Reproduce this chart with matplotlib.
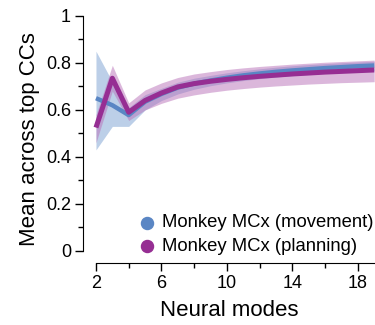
import numpy as np
import matplotlib.pyplot as plt

plt.rcParams['font.family'] = ['Liberation Sans', 'DejaVu Sans']

# number of neural modes
modes = np.arange(2, 20)

# mean CC across top CCs, with band limits
movement_mean = [0.65, 0.62, 0.578, 0.635, 0.668, 0.695, 0.712, 0.725, 0.737, 0.747,
                 0.755, 0.762, 0.768, 0.773, 0.778, 0.782, 0.786, 0.789]
movement_lo = [0.43, 0.53, 0.53, 0.60, 0.64, 0.668, 0.688, 0.703, 0.715, 0.725,
               0.733, 0.74, 0.746, 0.751, 0.756, 0.76, 0.764, 0.767]
movement_hi = [0.85, 0.72, 0.61, 0.665, 0.692, 0.718, 0.735, 0.747, 0.758, 0.767,
               0.775, 0.782, 0.788, 0.793, 0.797, 0.801, 0.804, 0.807]

planning_mean = [0.525, 0.735, 0.59, 0.64, 0.672, 0.698, 0.712, 0.722, 0.73, 0.737,
                 0.743, 0.748, 0.753, 0.757, 0.761, 0.764, 0.767, 0.77]
planning_lo = [0.46, 0.68, 0.555, 0.60, 0.628, 0.65, 0.664, 0.675, 0.684, 0.691,
               0.697, 0.702, 0.706, 0.71, 0.713, 0.716, 0.718, 0.72]
planning_hi = [0.58, 0.79, 0.63, 0.685, 0.715, 0.738, 0.753, 0.763, 0.772, 0.779,
               0.785, 0.79, 0.795, 0.799, 0.803, 0.806, 0.809, 0.812]

blue = '#5a86c4'
purple = '#962e93'

fig = plt.figure(figsize=(3.75, 3.25), dpi=100)
ax = fig.add_axes([0.221, 0.191, 0.779, 0.76])

ax.fill_between(modes, movement_lo, movement_hi, color='#bccfe8', lw=0)
ax.fill_between(modes, planning_lo, planning_hi, color='#b971b9', lw=0, alpha=0.5)
ax.plot(modes, movement_mean, color=blue, lw=3.2, solid_capstyle='butt')
ax.plot(modes, planning_mean, color=purple, lw=3.6, solid_capstyle='butt')

# legend drawn as plain markers + text
ax.scatter([], [], s=75, color=blue, label='Monkey MCx (movement)')
ax.scatter([], [], s=75, color=purple, label='Monkey MCx (planning)')
ax.legend(loc='lower right', frameon=False, fontsize=13.3, handlelength=1.0,
          handletextpad=0.3, borderaxespad=0.0, labelspacing=0.35, borderpad=0.1,
          bbox_to_anchor=(1.0, 0.025))

ax.set_xlim(1.2, 19.05)
ax.set_ylim(-0.051, 1.0)
ax.spines['top'].set_visible(False)
ax.spines['right'].set_visible(False)
ax.spines['left'].set_bounds(0, 1)
ax.spines['bottom'].set_bounds(2, 19.05)

ax.set_xticks([2, 6, 10, 14, 18])
ax.set_xticks([4, 8, 12, 16], minor=True)
ax.set_yticks([0, 0.2, 0.4, 0.6, 0.8, 1.0])
ax.set_yticklabels(['0', '0.2', '0.4', '0.6', '0.8', '1'])
ax.set_yticks([0.1, 0.3, 0.5, 0.7, 0.9], minor=True)
ax.tick_params(which='both', direction='out', length=5.5, width=1, labelsize=13, pad=3)
ax.tick_params(which='minor', length=3.5)

ax.set_xlabel('Neural modes', fontsize=16, labelpad=6)
ax.set_ylabel('Mean across top CCs', fontsize=16, labelpad=4)

fig.savefig('out.png', dpi=100)
